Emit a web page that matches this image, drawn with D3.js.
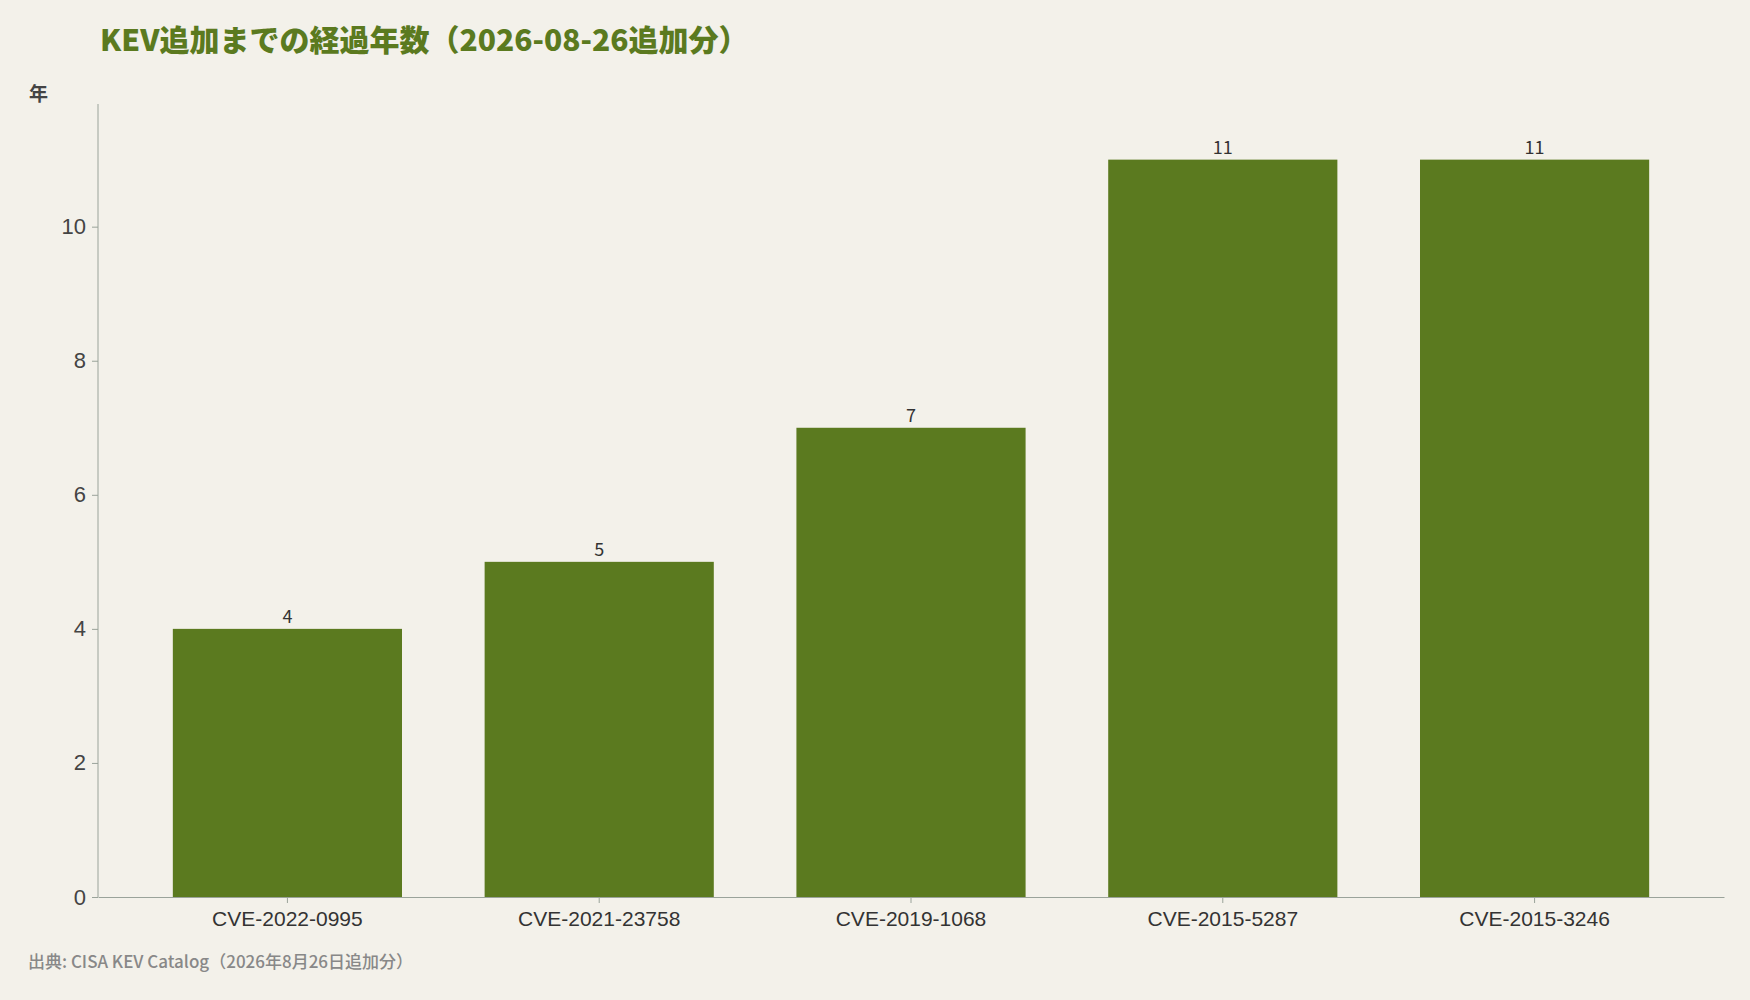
<!DOCTYPE html>
<html><head><meta charset="utf-8">
<script src="https://cdn.jsdelivr.net/npm/d3@7"></script>
<style>body{margin:0;background:#f3f1ea;}svg{display:block;font-family:"Noto Sans CJK JP","Noto Sans",sans-serif;}</style>
</head><body><svg id="c" width="1750" height="1000"></svg>
<script>
const categories=["CVE-2022-0995","CVE-2021-23758","CVE-2019-1068","CVE-2015-5287","CVE-2015-3246"];
const values=[4,5,7,11,11];
const yTicks=[0,2,4,6,8,10];
const title="KEV追加までの経過年数（2026-08-26追加分）";
const yLabel="年";
const source="出典: CISA KEV Catalog（2026年8月26日追加分）";

const svg=d3.select("#c");
svg.append("rect").attr("width",1750).attr("height",1000).attr("fill","#f3f1ea");
const x=d3.scaleBand().domain(categories).range([98,1724]).paddingInner(0.265).paddingOuter(0.24);
const y=d3.scaleLinear().domain([0,11.83]).range([897,104]);
const bar="#5b7a1f";
svg.selectAll("rect.b").data(values).join("rect").attr("class","b")
 .attr("x",(d,i)=>x(categories[i])).attr("width",x.bandwidth())
 .attr("y",d=>y(d)).attr("height",d=>y(0)-y(d)).attr("fill",bar);
svg.selectAll("text.v").data(values).join("text").attr("class","v")
 .attr("x",(d,i)=>x(categories[i])+x.bandwidth()/2).attr("y",d=>y(d)-6)
 .attr("text-anchor","middle").attr("font-size",18).attr("fill","#333").text(d=>d);
const ya=svg.append("g").attr("transform","translate(98,0)").call(d3.axisLeft(y).tickValues(yTicks).tickSize(6).tickPadding(6));
ya.select(".domain").attr("stroke","#9aa39a").attr("d","M0,104V897");
ya.selectAll(".tick line").attr("stroke","#9aa39a");
ya.selectAll(".tick text").attr("font-size",22).attr("fill","#444");
const xa=svg.append("g").attr("transform","translate(0,897)").call(d3.axisBottom(x).tickSize(6).tickPadding(8).tickSizeOuter(0));
xa.select(".domain").attr("stroke","#9aa39a");
xa.selectAll(".tick line").attr("stroke","#9aa39a");
xa.selectAll(".tick text").attr("font-size",21).attr("fill","#333").attr("font-weight",500);
svg.append("text").attr("x",100).attr("y",51).attr("font-size",30).attr("font-weight",900).attr("fill","#5b7a1f").text(title);
svg.append("text").attr("x",29).attr("y",101).attr("font-size",19).attr("font-weight",700).attr("fill","#444").text(yLabel);
svg.append("text").attr("x",28).attr("y",968).attr("font-size",17).attr("font-weight",500).attr("fill","#888").text(source);
</script></body></html>
